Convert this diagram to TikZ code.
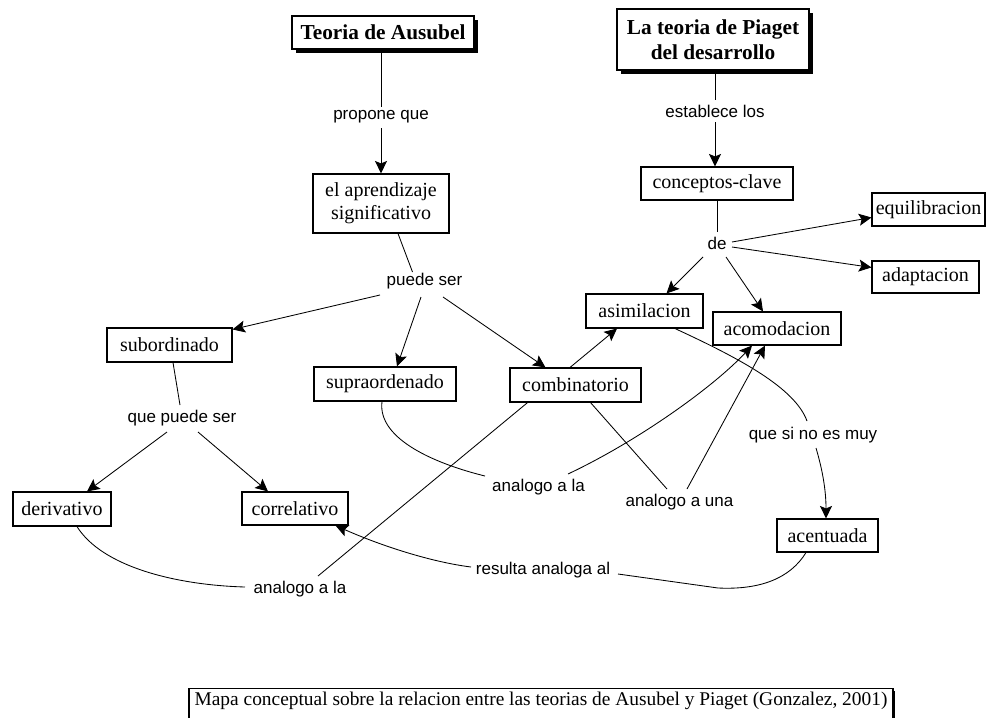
\documentclass[tikz,border=0pt]{standalone}
\usepackage{fontspec}
\setmainfont{Liberation Serif}
\newfontfamily\linkfont{Liberation Sans}
\usetikzlibrary{arrows.meta,shadows,backgrounds}
\begin{document}
\begin{tikzpicture}[x=1pt,y=-1pt,
  concept/.style={draw, line width=1.1pt, fill=white, inner sep=0pt, align=center,
    font=\fontsize{20}{23}\selectfont},
  titlebox/.style={concept, line width=1.2pt, font=\fontsize{21.3}{25}\selectfont\bfseries,
    drop shadow={shadow xshift=4pt, shadow yshift=-4pt, fill=black, opacity=1}},
  linklabel/.style={inner sep=0pt, font=\linkfont\fontsize{17}{20}\selectfont},
  link/.style={line width=0.85pt},
  arrowlink/.style={link, -{Stealth[length=12.5pt, width=12pt, inset=2.5pt]}},
  captionbox/.style={draw, line width=1.1pt, fill=white, inner xsep=0pt, inner ysep=4pt,
    text height=13pt, text depth=30pt, font=\fontsize{19.4}{22}\selectfont,
    drop shadow={shadow xshift=2pt, shadow yshift=-2pt, fill=black, opacity=1}},
]
\useasboundingbox (0,0) rectangle (987,717);
\clip (0,0) rectangle (987,717);

% concepts
\node[titlebox, minimum width=182pt, minimum height=33pt] (ausubel) at (383,32.5) {Teoria de Ausubel};
\node[titlebox, minimum width=192pt, minimum height=61pt] (piaget) at (713,39.5) {La teoria de Piaget\\del desarrollo};
\node[concept, minimum width=136pt, minimum height=59pt] (aprendizaje) at (381,203.5) {el aprendizaje\\significativo};
\node[concept, minimum width=152pt, minimum height=33pt] (conceptos) at (717,183.5) {conceptos-clave};
\node[concept, minimum width=113pt, minimum height=33pt] (equilibracion) at (928.5,209.5) {equilibracion};
\node[concept, minimum width=107pt, minimum height=32pt] (adaptacion) at (925.5,277) {adaptacion};
\node[concept, minimum width=117pt, minimum height=34pt] (asimilacion) at (644.5,311) {asimilacion};
\node[concept, minimum width=128pt, minimum height=33pt] (acomodacion) at (777,328.5) {acomodacion};
\node[concept, minimum width=125pt, minimum height=34pt] (subordinado) at (169.5,345) {subordinado};
\node[concept, minimum width=142pt, minimum height=34pt] (supraordenado) at (385,384) {supraordenado};
\node[concept, minimum width=131pt, minimum height=34pt] (combinatorio) at (575.5,385) {combinatorio};
\node[concept, minimum width=98pt, minimum height=34pt] (derivativo) at (62,509) {derivativo};
\node[concept, minimum width=106pt, minimum height=33pt] (correlativo) at (295,508.5) {correlativo};
\node[concept, minimum width=101pt, minimum height=33pt] (acentuada) at (827.5,535.5) {acentuada};

% linking phrases
\node[linklabel] (propone) at (381,117) {propone que};
\node[linklabel] (establece) at (715,111) {establece los};
\node[linklabel] (puedeser) at (424.5,281) {puede ser};
\node[linklabel] (de) at (717,243) {de};
\node[linklabel] (quepuede) at (182,418) {que puede ser};
\node[linklabel] (quesino) at (813,435) {que si no es muy};
\node[linklabel] (analogoA) at (538.5,487) {analogo a la};
\node[linklabel] (analogoUna) at (679.5,502) {analogo a una};
\node[linklabel] (resulta) at (543,570) {resulta analoga al};
\node[linklabel] (analogoB) at (300,589) {analogo a la};

% caption
\node[captionbox, anchor=north, minimum width=704pt] (caption) at (541,688)
  {Mapa conceptual sobre la relacion entre las teorias de Ausubel y Piaget (Gonzalez, 2001)};

% connectors, behind the concept boxes
\begin{scope}[on background layer]
\fill[white] (0,0) rectangle (987,717);
\draw[link] (propone.north |- ausubel.south) -- ([shift={(0,-10)}]propone.center);
\draw[arrowlink] ([shift={(0,11)}]propone.center) -- (propone.center |- aprendizaje.north);
\draw[link] (establece.center |- piaget.south) -- ([shift={(0,-11)}]establece.center);
\draw[arrowlink] ([shift={(0,11)}]establece.center) -- (establece.center |- conceptos.north);
\draw[link] ([shift={(17,0)}]aprendizaje.south) -- ([shift={(-12,-9)}]puedeser.center);
\draw[arrowlink] ([shift={(-44.5,14)}]puedeser.center) -- ([shift={(0,2)}]subordinado.north east);
\draw[arrowlink] ([shift={(-3.5,16)}]puedeser.center) -- ([shift={(12,0)}]supraordenado.north);
\draw[arrowlink] ([shift={(18.5,16)}]puedeser.center) -- ([shift={(-30,0)}]combinatorio.north);
\draw[link] (conceptos.south) -- ([shift={(0,-11)}]de.center);
\draw[arrowlink] ([shift={(15,-1)}]de.center) -- ([shift={(0,8)}]equilibracion.west);
\draw[arrowlink] ([shift={(15,4)}]de.center) -- ([shift={(0,7)}]adaptacion.north west);
\draw[arrowlink] ([shift={(-14,14)}]de.center) -- ([shift={(22,0)}]asimilacion.north);
\draw[arrowlink] ([shift={(9,14)}]de.center) -- ([shift={(-14,0)}]acomodacion.north);
\draw[link] ([shift={(3.5,0)}]subordinado.south) -- ([shift={(-2,-13)}]quepuede.center);
\draw[arrowlink] ([shift={(-15,14)}]quepuede.center) -- ([shift={(25,0)}]derivativo.north);
\draw[arrowlink] ([shift={(16,14)}]quepuede.center) -- ([shift={(-27,0)}]correlativo.north);
\draw[link] ([shift={(30.5,0)}]asimilacion.south) .. controls +(65,30) and +(-12,-33) .. ([shift={(-6,-14)}]quesino.center);
\draw[arrowlink] ([shift={(3,13)}]quesino.center) .. controls +(8,27) and +(0,-24) .. ([shift={(-1.5,0)}]acentuada.north);
\draw[link] ([shift={(-21.5,0)}]acentuada.south) .. controls +(-16,26) and +(42,2) .. ([shift={(175,18)}]resulta.center) -- ([shift={(75,4)}]resulta.center);
\draw[arrowlink] ([shift={(-72,-3)}]resulta.center) .. controls +(-40,-5) and +(45,20) .. ([shift={(-13,0)}]correlativo.south east);
\draw[link] ([shift={(15,0)}]derivativo.south) .. controls +(25,40) and +(-70,-2) .. ([shift={(-55,-2)}]analogoB.center);
\draw[arrowlink] ([shift={(18,-13)}]analogoB.center) -- ([shift={(-27.5,0)}]asimilacion.south);
\draw[link] ([shift={(-3,0)}]supraordenado.south) .. controls +(-5,39) and +(-45,-11) .. ([shift={(-53.5,-11)}]analogoA.center);
\draw[arrowlink] ([shift={(29.5,-13)}]analogoA.center) .. controls +(72,-34) and +(-37,40) .. ([shift={(-25,0)}]acomodacion.south);
\draw[link] ([shift={(15,0)}]combinatorio.south) -- ([shift={(-12.5,-13)}]analogoUna.center);
\draw[arrowlink] ([shift={(7.5,-13)}]analogoUna.center) -- ([shift={(-12,0)}]acomodacion.south);
\end{scope}
\end{tikzpicture}
\end{document}
